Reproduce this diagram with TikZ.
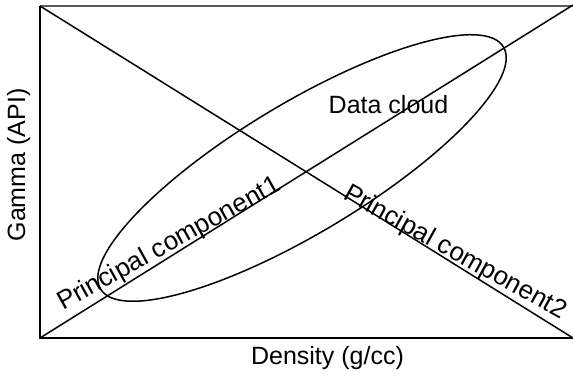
\documentclass[tikz,border=0pt]{standalone}
\usepackage{fontspec}
\setmainfont{Liberation Sans}
\begin{document}
\begin{tikzpicture}[x=1pt,y=1pt,
  lbl/.style={font=\fontsize{25}{29}\selectfont},
  pclbl/.style={font=\fontsize{26}{30}\selectfont, inner sep=0pt, anchor=base west},
  guide/.style={line width=1.5pt, black},
]
\useasboundingbox (0,0) rectangle (573,379);
% plot frame corners
\coordinate (bl) at (40,41);
\coordinate (tl) at (40,373);
\coordinate (tr) at (573,374);
\coordinate (br) at (573,41);
\coordinate (trtop) at (573,373);
% frame
\draw[line width=2pt, black!65] (tl) -- (trtop);
\draw[line width=1.6pt] (tl) -- (bl) -- (br);
% data cloud
\draw[guide] (302,211) ellipse[x radius=235, y radius=65, rotate=31];
\node[lbl, anchor=base] (cloud) at (388.5,265) {Data cloud};
% principal components
\draw[guide] (bl) -- (tr);
\draw[guide] (tl) -- (br);
\node[pclbl, rotate=29] (pc1) at (63,68) {Principal component1};
\node[pclbl, rotate=-29] (pc2) at (342,181) {Principal component2};
% axis labels
\node[lbl, anchor=base] (xlab) at (327.5,14) {Density (g/cc)};
\node[lbl, anchor=base, rotate=90] (ylab) at (25,214) {Gamma (API)};
\end{tikzpicture}
\end{document}
